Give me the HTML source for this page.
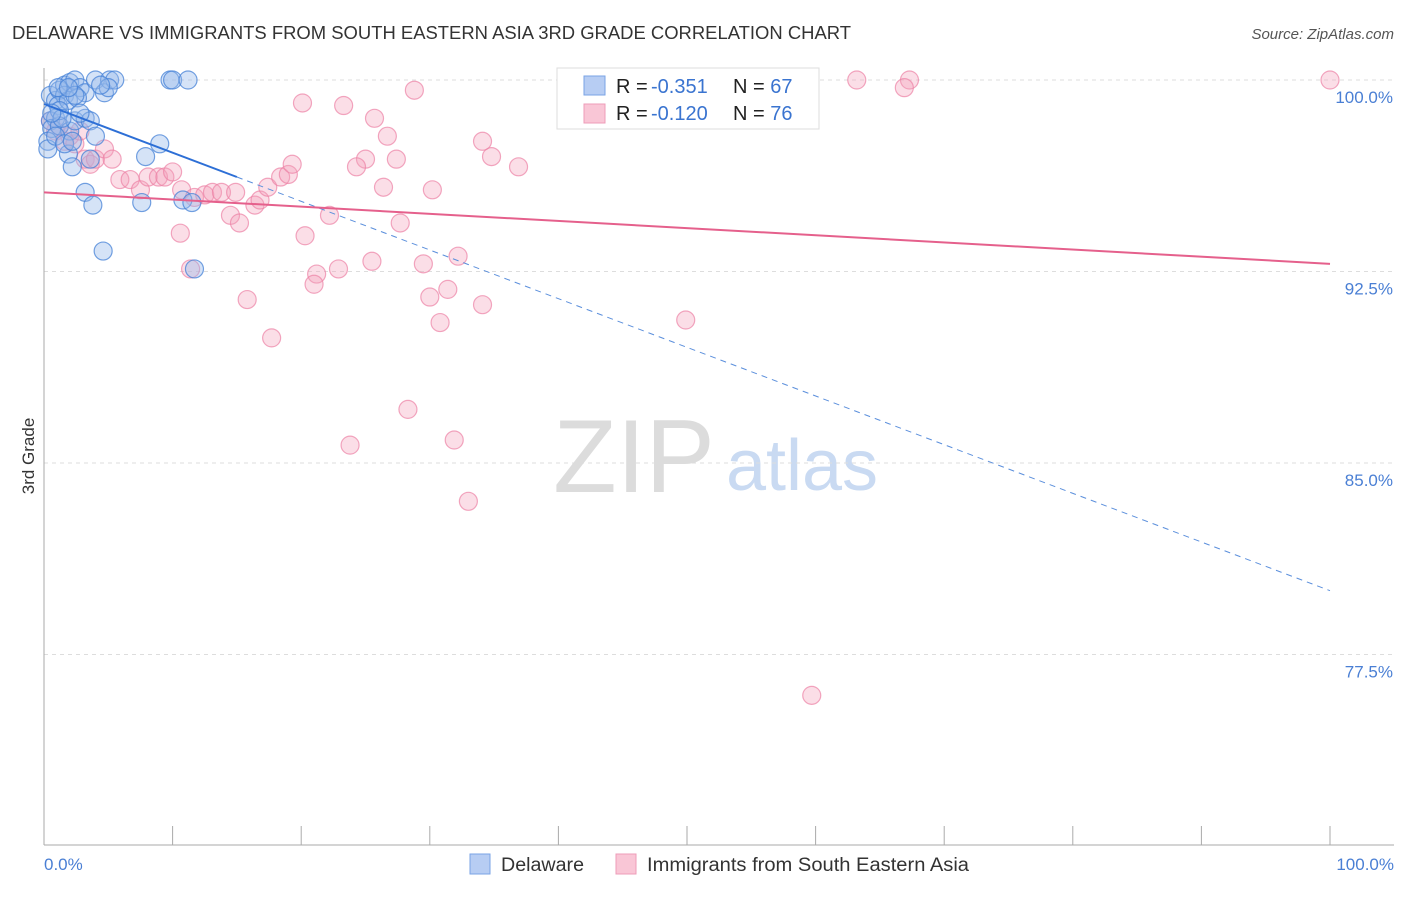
<!DOCTYPE html>
<html><head><meta charset="utf-8"><style>
body{margin:0;background:#fff;font-family:"Liberation Sans",sans-serif;}
svg text{font-family:"Liberation Sans",sans-serif;}
</style></head><body>
<svg id="chart" width="1406" height="892" xmlns="http://www.w3.org/2000/svg">
<text x="12" y="39" font-size="18" fill="#333" textLength="839" lengthAdjust="spacingAndGlyphs">DELAWARE VS IMMIGRANTS FROM SOUTH EASTERN ASIA 3RD GRADE CORRELATION CHART</text>
<text x="1394" y="39" font-size="15" fill="#555" text-anchor="end" font-style="italic">Source: ZipAtlas.com</text>
<text transform="translate(34,456) rotate(-90)" font-size="17" fill="#333" text-anchor="middle">3rd Grade</text>
<g>
<text x="634" y="492" font-size="104" fill="#dcdcdc" text-anchor="middle" font-family="Liberation Serif,serif">ZIP</text>
<text x="802" y="490" font-size="72" fill="#c9daf2" text-anchor="middle">atlas</text>
</g>
<g id="grid"></g>
<line x1="44" y1="845" x2="1394" y2="845" stroke="#aaa"/>
<line x1="44" y1="68" x2="44" y2="845" stroke="#aaa"/>
<g id="pts"></g>
<g id="trend"></g>
<text x="44" y="870" font-size="17" fill="#4a7fd4">0.0%</text>
<text x="1394" y="870" font-size="17" fill="#4a7fd4" text-anchor="end">100.0%</text>
<g>
<rect x="557" y="68" width="262" height="61" fill="#fff" stroke="#ddd"/>
<rect x="584" y="76" width="21" height="19" fill="#b7cdf3" stroke="#7aa3e6"/>
<rect x="584" y="104" width="21" height="19" fill="#f9c6d6" stroke="#ee9cb8"/>
<text x="616" y="93" font-size="20" fill="#222">R = <tspan x="651" fill="#3a74d0">-0.351</tspan><tspan x="733">N = </tspan><tspan fill="#3a74d0">67</tspan></text>
<text x="616" y="120" font-size="20" fill="#222">R = <tspan x="651" fill="#3a74d0">-0.120</tspan><tspan x="733">N = </tspan><tspan fill="#3a74d0">76</tspan></text>
</g>
<g>
<rect x="470" y="854" width="20" height="20" fill="#b7cdf3" stroke="#7aa3e6"/>
<text x="501" y="871" font-size="19" fill="#333" textLength="83" lengthAdjust="spacingAndGlyphs">Delaware</text>
<rect x="616" y="854" width="20" height="20" fill="#f9c6d6" stroke="#ee9cb8"/>
<text x="647" y="871" font-size="19" fill="#333" textLength="322" lengthAdjust="spacingAndGlyphs">Immigrants from South Eastern Asia</text>
</g>
</svg>
<script>
const yTicks=[100,92.5,85,77.5];
const yTickLabels=["100.0%","92.5%","85.0%","77.5%"];
const blueX=[0.5,0.9,1.2,1.6,2.0,2.4,1.6,1.1,1.9,2.8,3.2,2.6,4.0,4.7,5.1,5.5,5.0,9.8,10.0,11.2,0.5,0.9,0.6,0.3,0.3,1.2,2.0,2.4,3.2,3.6,4.0,1.9,2.2,3.6,7.9,9.0,3.2,3.8,7.6,10.8,11.5,4.6,11.7,1.2,1.4,0.9,1.6,2.2,2.8,2.4,0.6,1.1,4.4,1.9];
const blueY=[99.4,99.2,99.6,99.8,99.9,100,99.4,99.0,99.2,99.7,99.5,99.3,100,99.5,100,100,99.7,100,100,100,98.4,98.5,98.1,97.6,97.3,98.2,98.0,98.4,98.5,98.4,97.8,97.1,96.6,96.9,97.0,97.5,95.6,95.1,95.2,95.3,95.2,93.3,92.6,98.8,98.5,97.8,97.5,97.6,98.7,99.4,98.7,99.7,99.8,99.7];
const pinkX=[0.5,0.9,1.2,1.6,2.0,2.4,2.8,3.2,3.6,4.0,4.7,5.3,5.9,6.7,7.5,8.1,8.9,9.4,10.0,10.7,11.7,12.5,13.1,13.8,14.5,14.9,15.2,16.4,16.8,17.4,18.4,19.0,19.3,10.6,11.4,15.8,17.7,20.1,23.3,25.7,26.7,27.4,28.8,25.0,24.3,26.4,27.7,30.2,22.2,20.3,21.2,21.0,22.9,25.5,29.5,32.2,31.4,30.0,30.8,34.1,34.1,34.8,36.9,49.9,28.3,23.8,31.9,33.0,59.7,63.2,67.3,66.9,100];
const pinkY=[98.4,98.0,98.2,97.6,97.8,97.5,98.0,96.9,96.7,96.9,97.3,96.9,96.1,96.1,95.7,96.2,96.2,96.2,96.4,95.7,95.4,95.5,95.6,95.6,94.7,95.6,94.4,95.1,95.3,95.8,96.2,96.3,96.7,94.0,92.6,91.4,89.9,99.1,99.0,98.5,97.8,96.9,99.6,96.9,96.6,95.8,94.4,95.7,94.7,93.9,92.4,92.0,92.6,92.9,92.8,93.1,91.8,91.5,90.5,91.2,97.6,97.0,96.6,90.6,87.1,85.7,85.9,83.5,75.9,100,100,99.7,100];
const blueTrend=[99.06,80.0];
const pinkTrend=[95.6,92.8];
const NS="http://www.w3.org/2000/svg";
const sx=v=>44+v*12.86;
const sy=v=>80+(100-v)*191.5/7.5;
function mk(tag,attrs,parent){const e=document.createElementNS(NS,tag);for(const k in attrs)e.setAttribute(k,attrs[k]);parent.appendChild(e);return e;}
const grid=document.getElementById('grid');
yTicks.forEach((t,i)=>{
  const l=mk('line',{x1:44,x2:1394,y1:sy(t),y2:sy(t),stroke:'#ddd','stroke-dasharray':'4,4'},grid);
  
  
  const tx=mk('text',{x:1393,y:sy(t)+23,'font-size':17,fill:'#4a7fd4','text-anchor':'end'},grid);
  tx.textContent=yTickLabels[i];
  
  
});
for(let i=1;i<=10;i++){
  const x=44+i*128.6;
  const l=mk('line',{x1:x,x2:x,y1:826,y2:845,stroke:'#aaa'},grid);
  
  
}
const pts=document.getElementById('pts');
pinkX.forEach((x,i)=>{
  const c=mk('circle',{cx:sx(x),cy:sy(pinkY[i]),r:9,fill:'rgba(244,160,186,0.35)',stroke:'rgba(236,130,165,0.7)','stroke-width':1.2},pts);
  
  
});
blueX.forEach((x,i)=>{
  const c=mk('circle',{cx:sx(x),cy:sy(blueY[i]),r:9,fill:'rgba(150,185,235,0.4)',stroke:'rgba(70,130,215,0.75)','stroke-width':1.2},pts);
  
  
});
const tr=document.getElementById('trend');
const by=x=>blueTrend[0]+(blueTrend[1]-blueTrend[0])*x/100;
let l1=mk('line',{x1:sx(0),y1:sy(by(0)),x2:sx(15),y2:sy(by(15)),stroke:'#2d6fd6','stroke-width':2},tr);


let l2=mk('line',{x1:sx(15),y1:sy(by(15)),x2:sx(100),y2:sy(by(100)),stroke:'#5b8fdc','stroke-width':1,'stroke-dasharray':'6,5'},tr);


let l3=mk('line',{x1:sx(0),y1:sy(pinkTrend[0]),x2:sx(100),y2:sy(pinkTrend[1]),stroke:'#e5608c','stroke-width':2},tr);


</script>
</body></html>
